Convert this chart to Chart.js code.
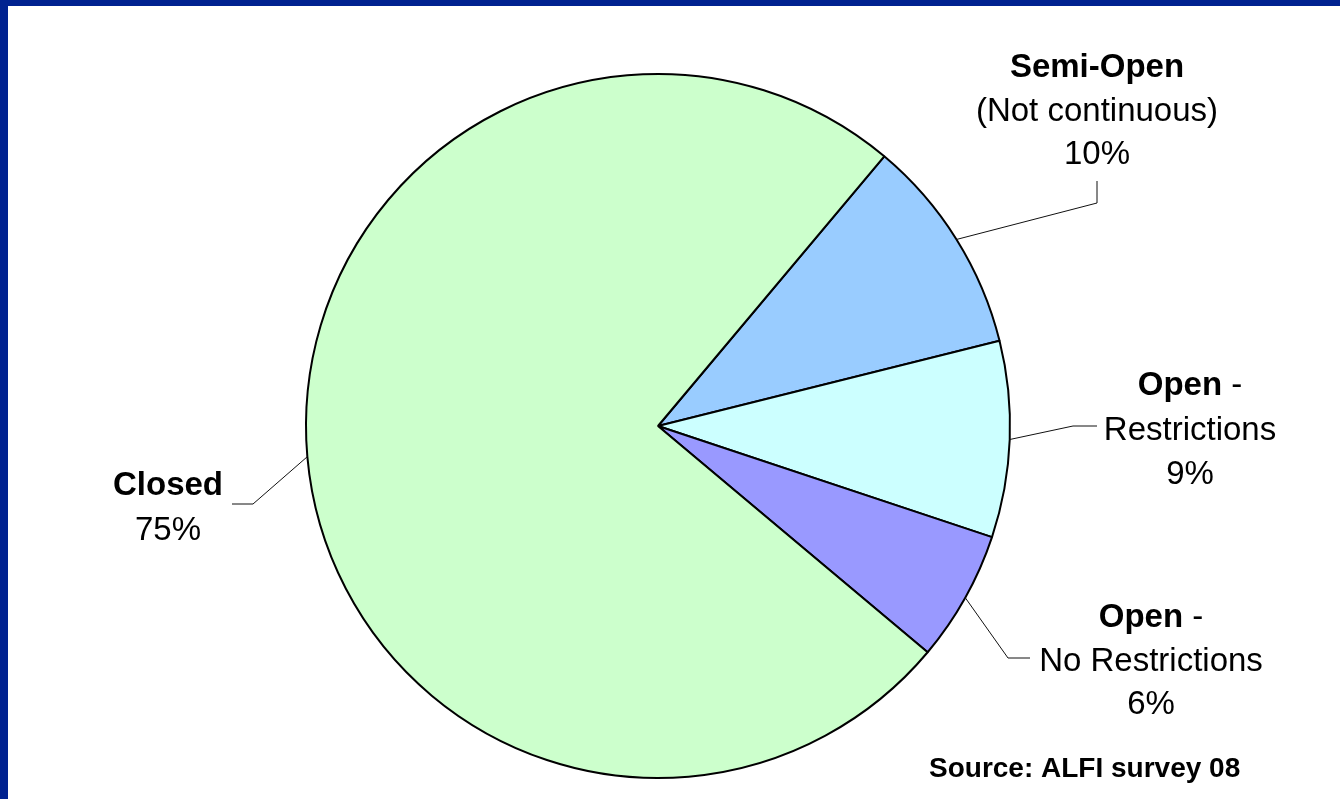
<!DOCTYPE html>
<html lang="en">
<head>
<meta charset="UTF-8">
<title>ALFI survey 08</title>
<script src="https://cdn.jsdelivr.net/npm/chart.js"></script>
<style>
    body { margin: 0; background: #fff; font-family: "Liberation Sans", Arial, sans-serif; }
    .wrap { position: relative; width: 1340px; height: 799px; overflow: hidden; }
    .bar-top { position: absolute; left: 0; top: 0; width: 1340px; height: 6px; background: #002290; }
    .bar-left { position: absolute; left: 0; top: 0; width: 8px; height: 799px; background: #002290; }
    canvas { position: absolute; left: 0; top: 0; }
</style>
</head>
<body>
<div class="wrap">
    <canvas id="pieChart" width="1340" height="799"></canvas>
    <div class="bar-top"></div>
    <div class="bar-left"></div>
</div>

<script>
// chart data (order follows the slices clockwise from the top-right)
const categories = ['Semi-Open', 'Open - Restrictions', 'Open - No Restrictions', 'Closed'];
const shares = [10, 9, 6, 75];
const sliceColors = ['#99CCFF', '#CCFFFF', '#9999FF', '#CCFFCC'];
// label text: [bold part, normal part] per line
const labelLines = [
    [['Semi-Open', ''], ['', '(Not continuous)'], ['', '10%']],
    [['Open', ' -'], ['', 'Restrictions'], ['', '9%']],
    [['Open', ' -'], ['', 'No Restrictions'], ['', '6%']],
    [['Closed', ''], ['', '75%']]
];
const sourceNote = 'Source: ALFI survey 08';

// where each label sits and how its leader line bends
const labelLayout = [
    { cx: 1097, base: [77, 121, 164], elbow: [1097, 203], end: [1097, 181] },
    { cx: 1190, base: [395, 440, 484], elbow: [1073, 426], end: [1097, 426] },
    { cx: 1151, base: [627, 671, 714], elbow: [1008, 658], end: [1030, 658] },
    { cx: 168, base: [495, 540], elbow: [253, 504], end: [232, 504] }
];

const FONT = '"Liberation Sans", Arial, sans-serif';

const pieLabels = {
    id: 'pieLabels',
    afterDraw(chart) {
        const ctx = chart.ctx;
        const arcs = chart.getDatasetMeta(0).data;
        ctx.save();
        arcs.forEach((arc, i) => {
            const p = arc.getProps(['x', 'y', 'startAngle', 'endAngle', 'outerRadius'], true);
            const mid = (p.startAngle + p.endAngle) / 2;
            const lay = labelLayout[i];
            // leader line
            ctx.strokeStyle = '#111';
            ctx.lineWidth = 1;
            ctx.beginPath();
            ctx.moveTo(p.x + Math.cos(mid) * p.outerRadius, p.y + Math.sin(mid) * p.outerRadius);
            ctx.lineTo(lay.elbow[0], lay.elbow[1]);
            ctx.lineTo(lay.end[0], lay.end[1]);
            ctx.stroke();
            // text
            ctx.fillStyle = '#000';
            ctx.textBaseline = 'alphabetic';
            ctx.textAlign = 'left';
            labelLines[i].forEach((parts, j) => {
                const boldFont = 'bold 33px ' + FONT;
                const normFont = '33px ' + FONT;
                ctx.font = boldFont;
                const wb = parts[0] ? ctx.measureText(parts[0]).width : 0;
                ctx.font = normFont;
                const wn = parts[1] ? ctx.measureText(parts[1]).width : 0;
                let x = lay.cx - (wb + wn) / 2;
                if (parts[0]) {
                    ctx.font = boldFont;
                    ctx.fillText(parts[0], x, lay.base[j]);
                    x += wb;
                }
                if (parts[1]) {
                    ctx.font = normFont;
                    ctx.fillText(parts[1], x, lay.base[j]);
                }
            });
        });
        ctx.font = 'bold 28px ' + FONT;
        ctx.fillText(sourceNote, 929, 777);
        ctx.restore();
    }
};

new Chart(document.getElementById('pieChart'), {
    type: 'pie',
    data: {
        labels: categories,
        datasets: [{
            data: shares,
            backgroundColor: sliceColors,
            borderColor: '#000',
            borderWidth: 2
        }]
    },
    options: {
        responsive: false,
        animation: false,
        rotation: 40,
        layout: { padding: { left: 305, top: 73, right: 329, bottom: 20 } },
        plugins: {
            legend: { display: false },
            tooltip: { enabled: false }
        }
    },
    plugins: [pieLabels]
});
</script>
</body>
</html>
